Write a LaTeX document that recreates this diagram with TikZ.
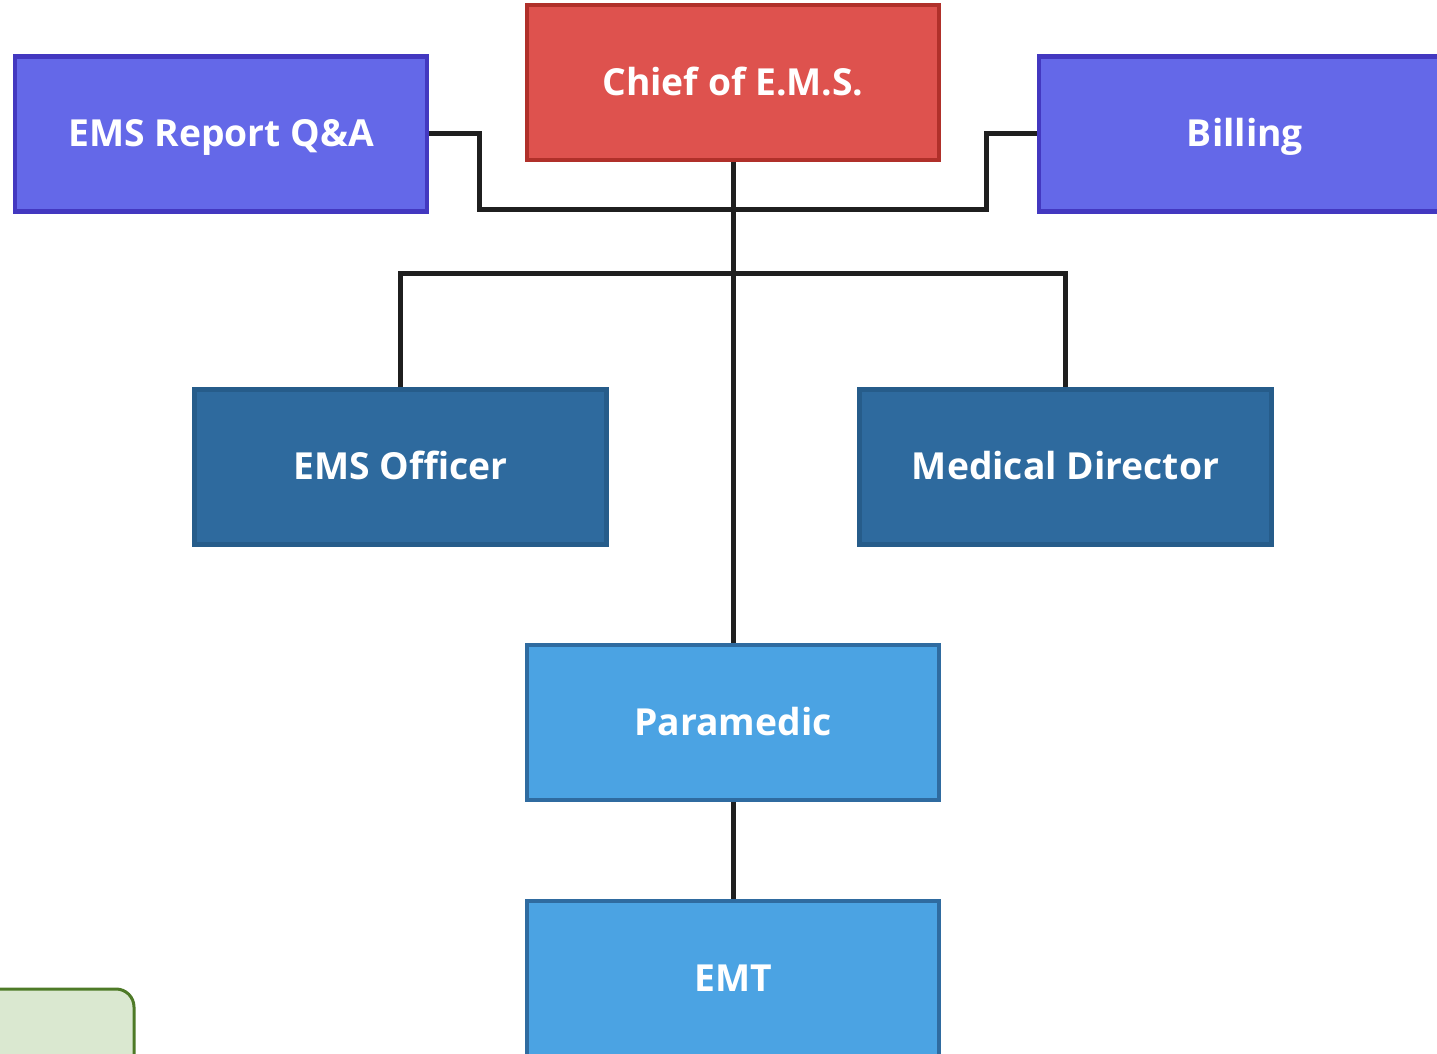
\documentclass[tikz,border=0pt]{standalone}
\usepackage{fontspec}
\setmainfont{Open Sans}
\usepackage{xcolor}
\usepackage{tikz}
\definecolor{chieffill}{HTML}{DE524E}
\definecolor{chiefline}{HTML}{B0302A}
\definecolor{staffill}{HTML}{6468E8}
\definecolor{staffline}{HTML}{4338C0}
\definecolor{officefill}{HTML}{2E6A9E}
\definecolor{officeline}{HTML}{265C8A}
\definecolor{fieldfill}{HTML}{4BA3E3}
\definecolor{fieldline}{HTML}{2F6BA0}
\definecolor{notefill}{HTML}{DAE8D0}
\definecolor{noteline}{HTML}{4E7A27}

\begin{document}
\begin{tikzpicture}[
			     box/.style={draw, line width=0.045cm, minimum width=4.12cm, minimum height=1.55cm, inner sep=0pt,
			                 text height=0.714em, text depth=0pt,
			                 text=white, font=\fontsize{10.6pt}{12pt}\selectfont\bfseries},
			     chiefbox/.style={box, fill=chieffill, draw=chiefline},
			     staffbox/.style={box, fill=staffill, draw=staffline},
			     officebox/.style={box, fill=officefill, draw=officeline},
			     fieldbox/.style={box, fill=fieldfill, draw=fieldline},
			     link/.style={line width=0.05cm, draw=black!88}
			     ] 
\useasboundingbox (0,0) rectangle (14.37,10.53);
\clip (0,0) rectangle (14.37,10.53);
\node[chiefbox] (chief) at (7.33,9.705) {Chief of E.M.S.};
\node[staffbox] (report) at (2.21,9.19) {EMS Report Q\&A};
\node[staffbox] (billing) at (12.45,9.19) {Billing};
\node[officebox] (officer) at (4.005,5.86) {EMS Officer};
\node[officebox] (director) at (10.655,5.86) {Medical Director};
\node[fieldbox] (paramedic) at (7.33,3.305) {Paramedic};
\node[fieldbox] (emt) at (7.33,0.745) {EMT};
\coordinate (busA) at (7.33,8.43);
\coordinate (busB) at (7.33,7.79);
\path[link] (chief.south) -- (paramedic.north);
\path[link] (report.east) -- ++(0.5,0) |- (busA) -| ([xshift=-0.5cm]billing.west) -- (billing.west);
\path[link] (officer.north) |- (busB) -| (director.north);
\path[link] (paramedic.south) -- (emt.north);
% green note in the corner
\draw[line width=0.03cm, draw=noteline, fill=notefill, rounded corners=0.18cm] (-0.5,-0.5) rectangle (1.34,0.64);
\end{tikzpicture}
\end{document}
